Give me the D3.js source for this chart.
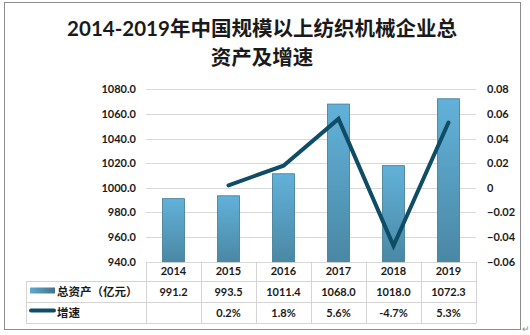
<!DOCTYPE html>
<html><head><meta charset="utf-8">
<script src="https://cdn.jsdelivr.net/npm/d3@7"></script>
<style>
html,body{margin:0;padding:0;background:#fff;}
svg{display:block;}
text{font-family:Lato,"Noto Sans CJK SC",sans-serif;fill:#1a1a1a;}
</style></head>
<body>
<svg id="chart" width="530" height="335"></svg>
<script>
const titleLines = ["2014-2019年中国规模以上纺织机械企业总", "资产及增速"];
const years = ["2014", "2015", "2016", "2017", "2018", "2019"];
const assets = [991.2, 993.5, 1011.4, 1068.0, 1018.0, 1072.3];
const growth = [null, 0.002, 0.018, 0.056, -0.047, 0.053];
const growthLabels = ["", "0.2%", "1.8%", "5.6%", "-4.7%", "5.3%"];
const leftTicks = [940, 960, 980, 1000, 1020, 1040, 1060, 1080];
const rightTicks = [-0.06, -0.04, -0.02, 0, 0.02, 0.04, 0.06, 0.08];
const seriesNames = ["总资产（亿元）", "增速"];

(function(){
const svg = d3.select("#chart");
const defs = svg.append("defs");
const g1 = defs.append("linearGradient").attr("id","barGrad").attr("x1",0).attr("y1",0).attr("x2",0).attr("y2",1);
g1.append("stop").attr("offset","0%").attr("stop-color","#62b1da");
g1.append("stop").attr("offset","100%").attr("stop-color","#4a88a4");
const g2 = defs.append("linearGradient").attr("id","legGrad").attr("x1",0).attr("y1",0).attr("x2",1).attr("y2",0);
g2.append("stop").attr("offset","0%").attr("stop-color","#5fa9d2");
g2.append("stop").attr("offset","100%").attr("stop-color","#45728a");

// outer frame
svg.append("rect").attr("x",4.5).attr("y",2.5).attr("width",516).attr("height",327)
  .attr("fill","none").attr("stroke","#8c8c8c").attr("stroke-width",1);
svg.append("text").attr("x",522).attr("y",332).attr("font-size",9).style("fill","#888").text("↵");

// title
svg.selectAll(".title").data(titleLines).join("text")
  .attr("x",262).attr("y",(d,i)=>36+i*29)
  .attr("text-anchor","middle").attr("font-size",20.5).attr("font-weight","bold")
  .text(d=>d);

const pLeft = 146, pRight = 476, pTop = 89.3, pBottom = 261.7;
const x = d3.scaleBand().domain(years).range([pLeft,pRight]).padding(0);
const yL = d3.scaleLinear().domain([940,1080]).range([pBottom,pTop]);
const yR = d3.scaleLinear().domain([-0.06,0.08]).range([pBottom,pTop]);

// gridlines
svg.append("g").selectAll("line").data(leftTicks).join("line")
  .attr("x1",pLeft).attr("x2",pRight)
  .attr("y1",d=>Math.round(yL(d))+0.5).attr("y2",d=>Math.round(yL(d))+0.5)
  .attr("stroke","#d9d9d9").attr("stroke-width",1);

// left axis labels
svg.append("g").selectAll("text").data(leftTicks).join("text")
  .attr("x",136).attr("y",d=>yL(d)+4)
  .attr("text-anchor","end").attr("font-size",11).attr("font-weight","bold")
  .text(d=>d3.format(".1f")(d));

// right axis labels
svg.append("g").selectAll("text").data(rightTicks).join("text")
  .attr("x",487).attr("y",d=>yR(d)+4)
  .attr("text-anchor","start").attr("font-size",11).attr("font-weight","bold")
  .text(d=>d===0?"0":d3.format(".2f")(d));

// bars
const bw = x.bandwidth()*0.4;
svg.append("g").selectAll("rect").data(assets).join("rect")
  .attr("x",(d,i)=>x(years[i])+(x.bandwidth()-bw)/2)
  .attr("y",d=>yL(d))
  .attr("width",bw)
  .attr("height",d=>pBottom-yL(d))
  .attr("fill","url(#barGrad)").attr("stroke","#3f7891").attr("stroke-width",0.8);

// growth line
const pts = growth.map((v,i)=>({v,i})).filter(p=>p.v!==null);
const line = d3.line().x(p=>x(years[p.i])+x.bandwidth()/2).y(p=>yR(p.v));
svg.append("path").datum(pts).attr("d",line)
  .attr("fill","none").attr("stroke","#0f4c66").attr("stroke-width",4)
  .attr("stroke-linecap","round").attr("stroke-linejoin","miter");

// data table
const tbl = svg.append("g").attr("stroke","#d4d4d4").attr("stroke-width",1);
[281,302,323].forEach(yy=>{
  tbl.append("line").attr("x1",26).attr("x2",pRight).attr("y1",yy+0.5).attr("y2",yy+0.5);
});
tbl.append("line").attr("x1",26.5).attr("x2",26.5).attr("y1",281).attr("y2",323);
const colEdges = years.map(yr=>x(yr)).concat([pRight]);
tbl.selectAll(".v").data(colEdges).join("line")
  .attr("x1",d=>Math.round(d)+0.5).attr("x2",d=>Math.round(d)+0.5)
  .attr("y1",pBottom).attr("y2",323);

// x labels
svg.append("g").selectAll("text").data(years).join("text")
  .attr("x",d=>x(d)+x.bandwidth()/2).attr("y",275)
  .attr("text-anchor","middle").attr("font-size",11).attr("font-weight","bold").text(d=>d);
svg.append("g").selectAll("text").data(assets).join("text")
  .attr("x",(d,i)=>x(years[i])+x.bandwidth()/2).attr("y",295.5)
  .attr("text-anchor","middle").attr("font-size",11).attr("font-weight","bold").text(d=>d3.format(".1f")(d));
svg.append("g").selectAll("text").data(growthLabels).join("text")
  .attr("x",(d,i)=>x(years[i])+x.bandwidth()/2).attr("y",316.5)
  .attr("text-anchor","middle").attr("font-size",11).attr("font-weight","bold").text(d=>d);

// legend keys in table
svg.append("rect").attr("x",30).attr("y",287.5).attr("width",25).attr("height",6)
  .attr("fill","url(#legGrad)");
svg.append("line").attr("x1",31).attr("x2",54).attr("y1",310.5).attr("y2",310.5)
  .attr("stroke","#0f4c66").attr("stroke-width",4).attr("stroke-linecap","round");
svg.append("g").selectAll("text").data(seriesNames).join("text")
  .attr("x",57).attr("y",(d,i)=>i===0?295.5:316.5)
  .attr("font-size",11.5).attr("font-weight","bold").text(d=>d);
})();
</script>
</body></html>
